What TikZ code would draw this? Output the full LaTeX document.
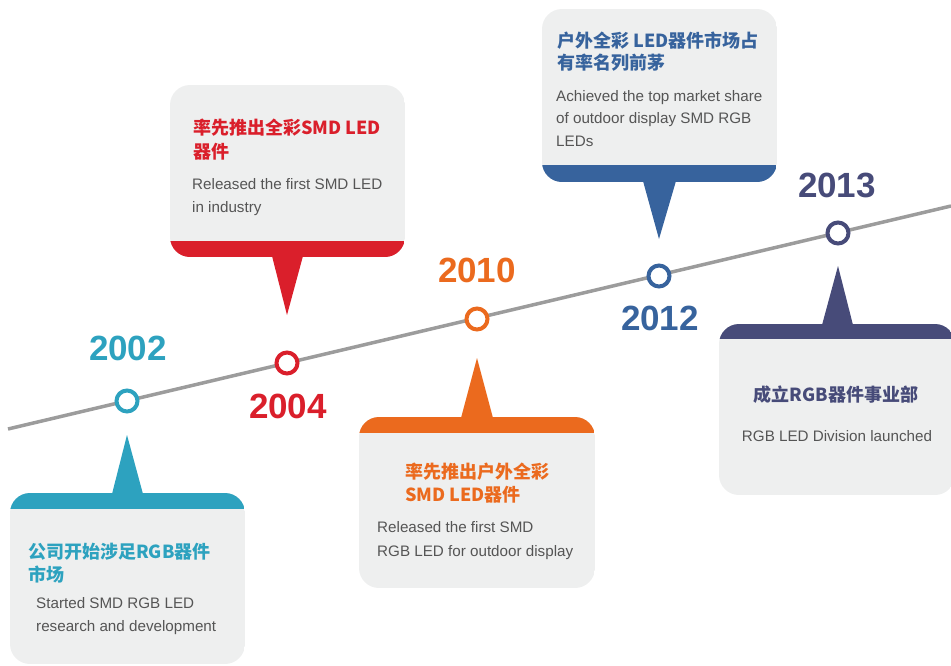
\documentclass[tikz,border=0pt]{standalone}
\usepackage{fontspec}
\setmainfont{Liberation Sans}
\newfontfamily\cjk{Noto Sans CJK SC}
\definecolor{cteal}{HTML}{2DA2BF}
\definecolor{cred}{HTML}{DA1F2B}
\definecolor{corange}{HTML}{EB6A1E}
\definecolor{cblue}{HTML}{37639D}
\definecolor{cnavy}{HTML}{474B79}
\definecolor{lgray}{HTML}{9C9C9C}
\definecolor{boxgray}{HTML}{EEEFEF}
\definecolor{txtgray}{HTML}{555555}
\begin{document}
\begin{tikzpicture}[x=1pt,y=-1pt,
  titletext/.style={font=\cjk\bfseries\fontsize{18}{18}\selectfont, anchor=base west, inner sep=0},
  bodytext/.style={font=\fontsize{15.2}{15.2}\selectfont, text=txtgray, anchor=base west, inner sep=0},
  yeartext/.style={font=\bfseries\fontsize{35}{35}\selectfont, anchor=base, inner sep=0},
  dotnode/.style={circle, fill=white, line width=4pt, minimum size=21pt, inner sep=0},
  tline/.style={draw=lgray, line width=3.5pt}]
\useasboundingbox (0,0) rectangle (951,665);
\clip (0,0) rectangle (951,665);

% timeline
\coordinate (L) at (8,429);
\coordinate (R) at (951,206);
\draw[tline] (L) -- (R);

% ---- Box 1 (2002, teal, band on top)
\begin{scope}
\clip[rounded corners=20] (10,493) rectangle (245,664);
\fill[boxgray] (10,493) rectangle (245,664);
\fill[cteal] (10,493) rectangle (245,509);
\end{scope}
\coordinate (p1) at (127,435);
\fill[cteal] (p1) -- (112,494) -- (143,494) -- cycle;

% ---- Box 2 (2004, red, band at bottom)
\begin{scope}
\clip[rounded corners=20] (170,85) rectangle (405,257);
\fill[boxgray] (170,85) rectangle (405,257);
\fill[cred] (170,241) rectangle (405,257);
\end{scope}
\coordinate (p2) at (287,315);
\fill[cred] (p2) -- (272,256) -- (303,256) -- cycle;

% ---- Box 3 (2010, orange, band on top)
\begin{scope}
\clip[rounded corners=20] (359,417) rectangle (595,588);
\fill[boxgray] (359,417) rectangle (595,588);
\fill[corange] (359,417) rectangle (595,433);
\end{scope}
\coordinate (p3) at (477,358);
\fill[corange] (p3) -- (461,418) -- (493,418) -- cycle;

% ---- Box 4 (2012, blue, band at bottom)
\begin{scope}
\clip[rounded corners=20] (542,9) rectangle (777,182);
\fill[boxgray] (542,9) rectangle (777,182);
\fill[cblue] (542,165) rectangle (777,182);
\end{scope}
\coordinate (p4) at (659,239);
\fill[cblue] (p4) -- (643,181) -- (676,181) -- cycle;

% ---- Box 5 (2013, navy, band on top)
\begin{scope}
\clip[rounded corners=20] (719,324) rectangle (955,495);
\fill[boxgray] (719,324) rectangle (955,495);
\fill[cnavy] (719,324) rectangle (955,339);
\end{scope}
\coordinate (p5) at (838,266);
\fill[cnavy] (p5) -- (822,325) -- (853,325) -- cycle;

% dots
\node[dotnode, draw=cteal] (d1) at (127,401) {};
\node[dotnode, draw=cred] (d2) at (287,363) {};
\node[dotnode, draw=corange] (d3) at (477,319) {};
\node[dotnode, draw=cblue] (d4) at (659,276) {};
\node[dotnode, draw=cnavy] (d5) at (838,233) {};

% years
\node[yeartext, text=cteal] (y1) at (128,360.5) {2002};
\node[yeartext, text=cred] (y2) at (288,418.5) {2004};
\node[yeartext, text=corange] (y3) at (477,282.5) {2010};
\node[yeartext, text=cblue] (y4) at (660,330.5) {2012};
\node[yeartext, text=cnavy] (y5) at (837,197.5) {2013};

% texts box 1
\node[titletext, text=cteal] (t1a) at (28,558.5) {公司开始涉足RGB器件};
\node[titletext, text=cteal] (t1b) at (28,581.5) {市场};
\node[bodytext] (b1a) at (36,608.5) {Started SMD RGB LED};
\node[bodytext] (b1b) at (36,631.5) {research and development};

% texts box 2
\node[titletext, text=cred] (t2a) at (193,134.5) {率先推出全彩SMD LED};
\node[titletext, text=cred] (t2b) at (193,158.5) {器件};
\node[bodytext] (b2a) at (192,189.5) {Released the first SMD LED};
\node[bodytext] (b2b) at (192,212.5) {in industry};

% texts box 3
\node[titletext, text=corange] (t3a) at (405,478.5) {率先推出户外全彩};
\node[titletext, text=corange] (t3b) at (405,501.5) {SMD LED器件};
\node[bodytext] (b3a) at (377,532.5) {Released the first SMD};
\node[bodytext] (b3b) at (377,556.5) {RGB LED for outdoor display};

% texts box 4
\node[titletext, text=cblue] (t4a) at (557,47.5) {户外全彩 LED器件市场占};
\node[titletext, text=cblue] (t4b) at (557,69.5) {有率名列前茅};
\node[bodytext] (b4a) at (556,101.5) {Achieved the top market share};
\node[bodytext] (b4b) at (556,123.5) {of outdoor display SMD RGB};
\node[bodytext] (b4c) at (556,146.5) {LEDs};

% texts box 5
\node[titletext, text=cnavy, anchor=base] (t5a) at (836,401.5) {成立RGB器件事业部};
\node[bodytext, anchor=base] (b5a) at (837,441.5) {RGB LED Division launched};
\end{tikzpicture}
\end{document}
